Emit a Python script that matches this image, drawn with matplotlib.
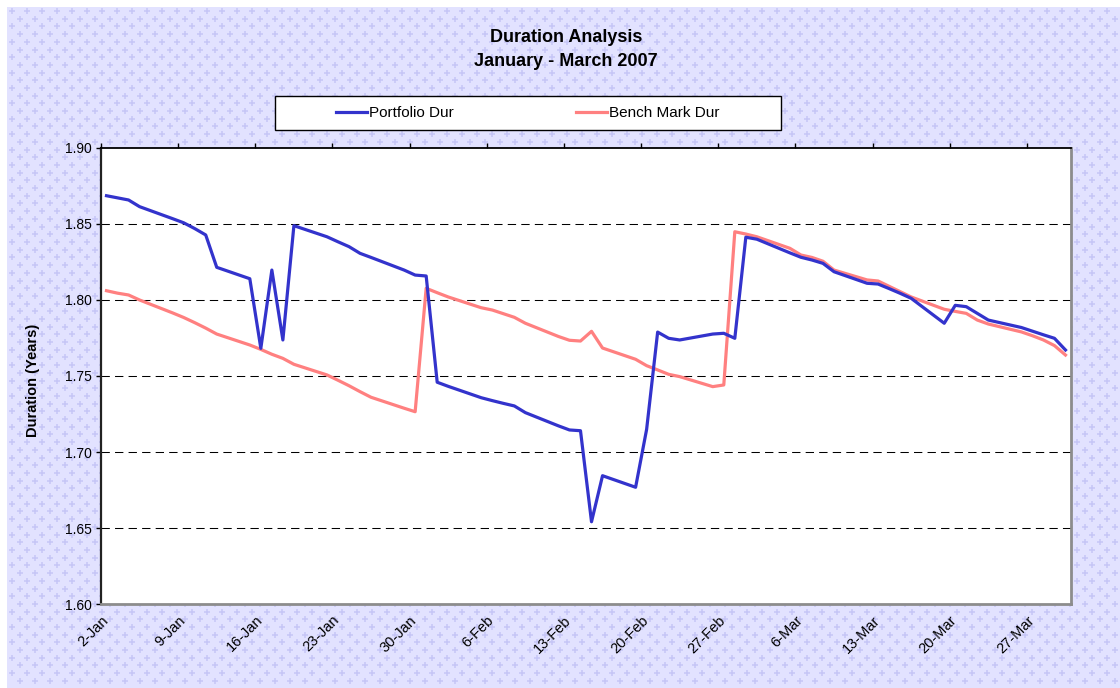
import numpy as np
import pandas as pd
import matplotlib
matplotlib.use("Agg")
from matplotlib import pyplot as plt
import matplotlib.dates as mdates
from matplotlib.patches import Rectangle
from matplotlib.transforms import ScaledTranslation

plt.rcParams['font.family'] = ['Liberation Sans', 'DejaVu Sans']

# business days 2-Jan .. 30-Mar 2007
dates = pd.bdate_range('2007-01-02', '2007-03-30')

portfolio_dur = [
    1.8686, 1.8672, 1.8658, 1.8614,
    1.8535, 1.8508, 1.8470, 1.8428, 1.8215,
    1.8140, 1.7682, 1.8197, 1.7737, 1.8489,
    1.8416, 1.8383, 1.8351, 1.8307, 1.8280,
    1.8197, 1.8164, 1.8158, 1.7459, 1.7432,
    1.7357, 1.7338, 1.7320, 1.7303, 1.7259,
    1.7172, 1.7145, 1.7140, 1.6541, 1.6844,
    1.6768, 1.7149, 1.7789, 1.7748, 1.7737,
    1.7776, 1.7781, 1.7748, 1.8413, 1.8400,
    1.8310, 1.8281, 1.8263, 1.8241, 1.8186,
    1.8110, 1.8105, 1.8075, 1.8044, 1.8011,
    1.7847, 1.7965, 1.7956, 1.7912, 1.7868,
    1.7819, 1.7795, 1.7771, 1.7748, 1.7671,
]

bench_dur = [
    1.8061, 1.8045, 1.8033, 1.8000,
    1.7915, 1.7885, 1.7851, 1.7815, 1.7776,
    1.7704, 1.7675, 1.7643, 1.7616, 1.7577,
    1.7507, 1.7472, 1.7436, 1.7397, 1.7360,
    1.7288, 1.7265, 1.8077, 1.8048, 1.8020,
    1.7949, 1.7934, 1.7910, 1.7886, 1.7847,
    1.7760, 1.7735, 1.7730, 1.7794, 1.7684,
    1.7610, 1.7568, 1.7540, 1.7511, 1.7496,
    1.7430, 1.7441, 1.8449, 1.8434, 1.8416,
    1.8340, 1.8296, 1.8280, 1.8255, 1.8197,
    1.8132, 1.8125, 1.8090, 1.8055, 1.8020,
    1.7939, 1.7925, 1.7912, 1.7868, 1.7842,
    1.7790, 1.7765, 1.7737, 1.7700, 1.7638,
]

tick_dates = pd.date_range('2007-01-02', '2007-03-27', freq='7D')
y_ticks = [1.60, 1.65, 1.70, 1.75, 1.80, 1.85, 1.90]

W, H = 1120, 688
fig = plt.figure(figsize=(W / 100, H / 100), dpi=100)
fig.patch.set_facecolor('white')

# patterned lavender background
bg = fig.add_axes([0, 0, 1, 1], zorder=-10)
bg.set_xlim(0, W)
bg.set_ylim(H, 0)
bg.axis('off')
bg.add_patch(Rectangle((7, 7), W - 7, H - 7, color='#E2E2FF', lw=0))
gx, gy = [], []
for i, yy in enumerate(np.arange(11, H, 7.7)):
    for xx in np.arange(12 + (i % 2) * 7.5, W, 15):
        gx.append(xx)
        gy.append(yy)
bg.scatter(gx, gy, marker='+', s=14, color='#C6C6F6', linewidths=1.1)

# legend box
bg.add_patch(Rectangle((275, 96), 506, 34, facecolor='white', edgecolor='black', lw=1))

ax = fig.add_axes([101 / W, 1 - 604 / H, 970 / W, 456 / H])
ax.set_facecolor('white')

x = mdates.date2num(dates.to_pydatetime()) + 0.5
l1, = ax.plot(x, portfolio_dur, color='#3333CC', lw=2.3, label='Portfolio Dur', zorder=4)
l2, = ax.plot(x, bench_dur, color='#FF8080', lw=2.3, label='Bench Mark Dur', zorder=3)

for yv in y_ticks[1:-1]:
    ax.axhline(yv, color='black', lw=0.75, linestyle=(0, (8, 5)), zorder=1)

ax.set_xlim(mdates.date2num(pd.Timestamp('2007-01-02')), mdates.date2num(pd.Timestamp('2007-03-31')))
ax.set_ylim(1.60, 1.90)
ax.set_yticks(y_ticks)
ax.set_yticklabels(['%.2f' % v for v in y_ticks], fontsize=10)
ax.set_xticks(mdates.date2num(tick_dates.to_pydatetime()))
ax.set_xticklabels(['%d-%s' % (d.day, d.strftime('%b')) for d in tick_dates], fontsize=10.5,
                   rotation=45, ha='right', va='top', rotation_mode='anchor')
shift = ScaledTranslation(4 / 100, 0, fig.dpi_scale_trans)
for lab in ax.get_xticklabels():
    lab.set_transform(lab.get_transform() + shift)

ax.tick_params(axis='x', bottom=False, top=True, labelbottom=True, labeltop=False,
               direction='out', length=3.6, width=1, pad=3)
ax.tick_params(axis='y', direction='out', length=3.6, width=1, pad=3)

ax.spines['top'].set_color('black')
ax.spines['top'].set_linewidth(1.3)
ax.spines['left'].set_color('#222222')
ax.spines['left'].set_linewidth(1.6)
for s in ['right', 'bottom']:
    ax.spines[s].set_color('#8C8C8C')
    ax.spines[s].set_linewidth(2)

fig.text(566 / W, 1 - 38 / H, 'Duration Analysis', ha='center', va='center',
         fontsize=13, fontweight='bold')
fig.text(566 / W, 1 - 61 / H, 'January - March 2007', ha='center', va='center',
         fontsize=13, fontweight='bold')
fig.text(33 / W, 1 - 380 / H, 'Duration (Years)', ha='center', va='center',
         rotation=90, fontsize=10.5, fontweight='bold')

fig.legend(handles=[l1, l2], loc='center', bbox_to_anchor=(528 / W, 1 - 113 / H),
           ncol=2, frameon=False, fontsize=11, handlelength=2.0, handletextpad=0.15,
           columnspacing=8.0)

fig.savefig('out.png', dpi=100)
